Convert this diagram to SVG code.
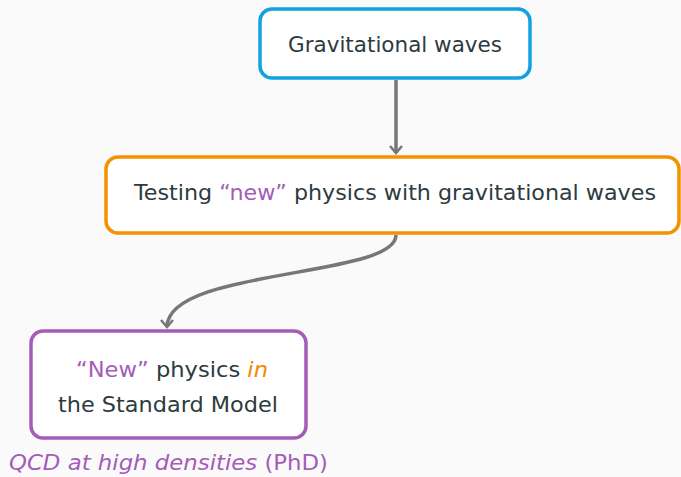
<svg xmlns="http://www.w3.org/2000/svg" width="681" height="477" viewBox="0 0 681 477">
<defs>
<style>
.t{font-family:"DejaVu Sans","Open Sans",sans-serif;font-size:21px;fill:#2d3b40}
.p{fill:#a45cb8}
.o{fill:#f08a00;font-style:italic}
.box{fill:#ffffff;stroke-width:3.5}
.edge{fill:none;stroke:#777777;stroke-width:3.5}
</style>
<marker id="ah" viewBox="0 0 12 14" refX="10" refY="7" markerWidth="12" markerHeight="14" markerUnits="userSpaceOnUse" orient="auto">
<path d="M3,1 L10,7 L3,13" fill="none" stroke="#777777" stroke-width="2.5" stroke-linejoin="miter"/>
</marker>
</defs>
<rect width="681" height="477" fill="#fafafa"/>
<g id="connectors">
<path class="edge" d="M396,80 L396,153" marker-end="url(#ah)"/>
<path class="edge" d="M396,235 C396,278 167,268 167,327" marker-end="url(#ah)"/>
</g>
<g id="node-gw">
<rect class="box" x="260" y="9" width="270" height="69" rx="12" stroke="#12a2e0"/>
<text class="t" x="288" y="52" textLength="214" lengthAdjust="spacingAndGlyphs">Gravitational waves</text>
</g>
<g id="node-testing">
<rect class="box" x="106" y="157" width="573" height="76" rx="12" stroke="#f39200"/>
<text class="t" x="134" y="200" textLength="522" lengthAdjust="spacingAndGlyphs">Testing <tspan class="p">“new”</tspan> physics with gravitational waves</text>
</g>
<g id="node-sm">
<rect class="box" x="31" y="331" width="275" height="107" rx="12" stroke="#a45cb8"/>
<text class="t" x="76" y="377" textLength="192" lengthAdjust="spacingAndGlyphs"><tspan class="p">“New”</tspan> physics <tspan class="o">in</tspan></text>
<text class="t" x="58" y="412" textLength="220" lengthAdjust="spacingAndGlyphs">the Standard Model</text>
</g>
<g id="label-qcd">
<text class="t" x="9" y="470" textLength="319" lengthAdjust="spacingAndGlyphs"><tspan class="p" font-style="italic">QCD at high densities</tspan> <tspan class="p">(PhD)</tspan></text>
</g>
</svg>
